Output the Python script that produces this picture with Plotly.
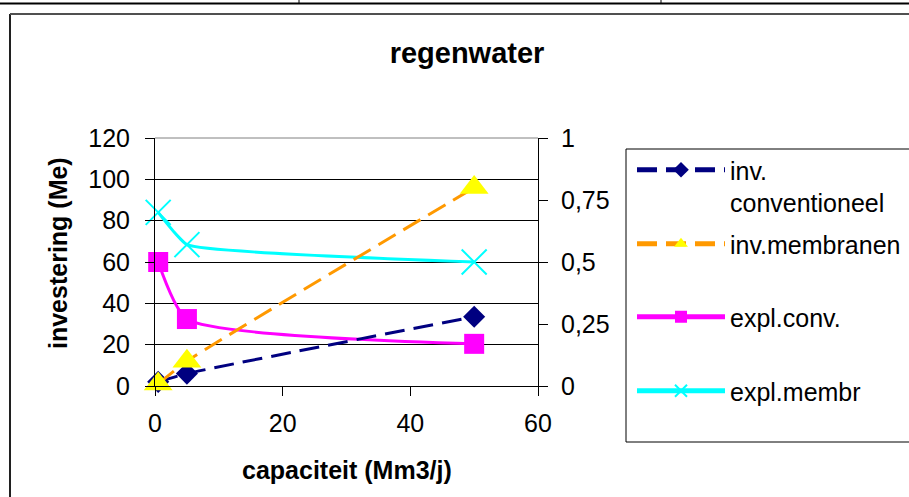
import plotly.graph_objects as go

# ---------------- data ----------------
capaciteit = [0.5, 5, 50]
inv_conventioneel = [2, 6, 33.5]
inv_membranen = [1, 12, 96]
expl_conv = [0.50, 0.27, 0.17]
expl_membr = [0.70, 0.57, 0.50]

x_ticks = [0, 20, 40, 60]
left_ticks = [0, 20, 40, 60, 80, 100, 120]
right_ticks = [0, 0.25, 0.5, 0.75, 1]
right_ticktext = ["0", "0,25", "0,5", "0,75", "1"]

# ---------------- layout geometry ----------------
W, H = 909, 497
L, R, T, B = 155, 538, 138, 386
FONT = "Liberation Sans, Arial, sans-serif"


def px(x):
    return (x - L) / (R - L)


def py(y):
    return (B - y) / (B - T)


fig = go.Figure()

# operating costs on the right axis (primary y)
fig.add_trace(go.Scatter(
    x=capaciteit, y=expl_conv, name="expl.conv.", mode="lines+markers",
    line=dict(color="#FF00FF", width=3, shape="spline", smoothing=0.55),
    marker=dict(symbol="square", size=20, color="#FF00FF"),
    yaxis="y", cliponaxis=False, legend="legend3"))
fig.add_trace(go.Scatter(
    x=capaciteit, y=expl_membr, name="expl.membr", mode="lines+markers",
    line=dict(color="#00FFFF", width=3, shape="spline", smoothing=0.35),
    marker=dict(symbol="x-thin", size=25, color="#00FFFF",
                line=dict(color="#00FFFF", width=2)),
    yaxis="y", cliponaxis=False, legend="legend4"))

# investments on the left axis (y2, overlaying)
fig.add_trace(go.Scatter(
    x=capaciteit, y=inv_conventioneel, name="inv.<br>conventioneel",
    mode="lines+markers",
    line=dict(color="#000080", width=3, dash="20px,9px", shape="spline", smoothing=0.5),
    marker=dict(symbol="diamond", size=17, color="#000080"),
    yaxis="y2", cliponaxis=False, legend="legend"))
fig.add_trace(go.Scatter(
    x=capaciteit, y=inv_membranen, name="inv.membranen", mode="lines+markers",
    line=dict(color="#FF9900", width=3, dash="20px,9px", shape="spline", smoothing=0.5),
    marker=dict(symbol="triangle-up", size=25, color="#FFFF00"),
    yaxis="y2", cliponaxis=False, legend="legend2"))

axis_font = dict(family=FONT, size=25, color="black")

fig.update_layout(
    width=W, height=H,
    margin=dict(l=L, r=W - R, t=T, b=H - B, pad=0, autoexpand=False),
    paper_bgcolor="white", plot_bgcolor="white",
    font=dict(family=FONT, size=25, color="black"),
    showlegend=True,
    title=dict(text="<b>regenwater</b>", x=467 / W, y=1 - 53 / H,
               xanchor="center", yanchor="middle",
               font=dict(family=FONT, size=29, color="black")),
    xaxis=dict(range=[0, 60], tickvals=x_ticks, showgrid=False, zeroline=False,
               showline=True, linecolor="black", linewidth=1,
               ticks="outside", ticklen=9, tickcolor="black",
               tickfont=axis_font, ticklabelstandoff=6),
    yaxis=dict(range=[0, 1], tickvals=right_ticks, ticktext=right_ticktext,
               side="right", showgrid=False, zeroline=False,
               showline=True, linecolor="black", linewidth=1,
               ticks="outside", ticklen=9, tickcolor="black",
               tickfont=axis_font, ticklabelstandoff=8),
    yaxis2=dict(range=[0, 120], tickvals=left_ticks, side="left", overlaying="y",
                showgrid=True, gridcolor="black", gridwidth=1, zeroline=False,
                showline=True, linecolor="black", linewidth=1,
                ticks="outside", ticklen=9, tickcolor="black",
                tickfont=axis_font, ticklabelstandoff=10),
)

legend_common = dict(font=dict(family=FONT, size=25, color="black"),
                     bgcolor="rgba(0,0,0,0)", borderwidth=0,
                     xanchor="left", itemwidth=88, itemsizing="constant")
LEG_X = 632
fig.update_layout(
    legend=dict(x=px(LEG_X), y=py(147), yanchor="top", valign="top", **legend_common),
    legend2=dict(x=px(LEG_X), y=py(244), yanchor="middle", **legend_common),
    legend3=dict(x=px(LEG_X), y=py(317), yanchor="middle", **legend_common),
    legend4=dict(x=px(LEG_X), y=py(391), yanchor="middle", **legend_common),
)

shapes = [
    # plot area top border
    dict(type="line", xref="paper", yref="paper", x0=0, x1=1, y0=1, y1=1,
         line=dict(color="#808080", width=1)),
    # legend box
    dict(type="rect", xref="paper", yref="paper", x0=px(626), x1=px(920),
         y0=py(442), y1=py(149), line=dict(color="black", width=1)),
    # chart frame
    dict(type="line", xref="paper", yref="paper", x0=px(10), x1=px(10),
         y0=py(14), y1=py(500), line=dict(color="#202020", width=2)),
    dict(type="line", xref="paper", yref="paper", x0=px(10), x1=px(920),
         y0=py(14), y1=py(14), line=dict(color="#505050", width=2)),
    # table rule above chart
    dict(type="line", xref="paper", yref="paper", x0=px(0), x1=px(909),
         y0=py(3.5), y1=py(3.5), line=dict(color="black", width=2)),
    dict(type="line", xref="paper", yref="paper", x0=px(299), x1=px(299),
         y0=py(0), y1=py(3.5), line=dict(color="black", width=1)),
    dict(type="line", xref="paper", yref="paper", x0=px(661), x1=px(661),
         y0=py(0), y1=py(3.5), line=dict(color="black", width=1)),
]
fig.update_layout(shapes=shapes)

annotations = [
    dict(text="<b>capaciteit (Mm3/j)</b>", xref="paper", yref="paper",
         x=px(346.5), y=py(470), showarrow=False, xanchor="center", yanchor="middle",
         font=dict(family=FONT, size=25, color="black")),
    dict(text="<b>investering (Me)</b>", xref="paper", yref="paper",
         x=px(58), y=py(253), showarrow=False, xanchor="center", yanchor="middle",
         textangle=-90, font=dict(family=FONT, size=25, color="black")),
]
fig.update_layout(annotations=annotations)

fig.write_html("out.html")
